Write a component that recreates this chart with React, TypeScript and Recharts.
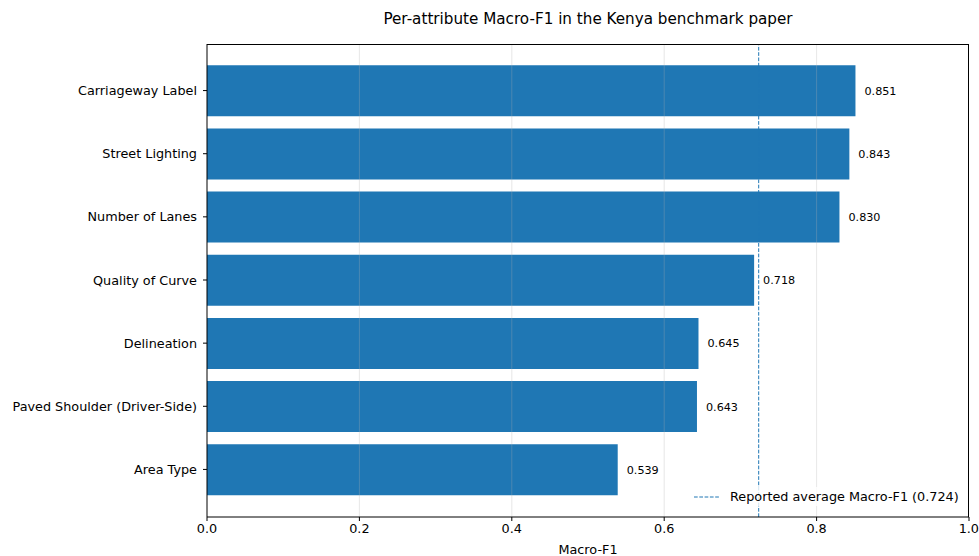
import { BarChart, Bar, XAxis, YAxis, ReferenceLine, LabelList, Label } from "recharts";

const attributes = [
  "Carriageway Label",
  "Street Lighting",
  "Number of Lanes",
  "Quality of Curve",
  "Delineation",
  "Paved Shoulder (Driver-Side)",
  "Area Type",
];
const macroF1 = [0.851, 0.843, 0.83, 0.718, 0.645, 0.643, 0.539];
const xTicks = [0, 0.2, 0.4, 0.6, 0.8, 1.0];
const gridTicks = [0.2, 0.4, 0.6, 0.8];
const reportedAverage = 0.724;

const data = attributes.map((name, i) => ({ name, value: macroF1[i] }));

const FONT = "'DejaVu Sans', sans-serif";
const BLUE = "#1f77b4";

export default function App() {
  return (
    <div style={{ position: "absolute", left: 0, top: 0, width: 979, height: 556, background: "#fff", fontFamily: FONT }}>
      {/* title */}
      <div
        style={{
          position: "absolute",
          top: 10,
          left: 207,
          width: 762,
          textAlign: "center",
          fontSize: 15.2,
          color: "#000",
        }}
      >
        Per-attribute Macro-F1 in the Kenya benchmark paper
      </div>
      <BarChart
        width={979}
        height={556}
        data={data}
        layout="vertical"
        margin={{ top: 44, right: 10, bottom: 0, left: 0 }}
        barCategoryGap="10%"
      >
        <XAxis
          type="number"
          domain={[0, 1]}
          ticks={xTicks}
          tickFormatter={(v: number) => v.toFixed(1)}
          height={39}
          tickSize={4}
          tickMargin={3}
          tick={{ fill: "#000", fontSize: 12.8, fontFamily: FONT }}
          stroke="#000"
        >
          <Label value="Macro-F1" position="insideBottom" offset={2} style={{ fill: "#000", fontSize: 12.8, fontFamily: FONT }} />
        </XAxis>
        <YAxis
          type="category"
          dataKey="name"
          width={207}
          tickSize={4}
          tickMargin={6}
          padding={{ top: 15, bottom: 16 }}
          tick={{ fill: "#000", fontSize: 12.8, fontFamily: FONT }}
          stroke="#000"
        />
        <Bar dataKey="value" fill={BLUE} isAnimationActive={false}>
          <LabelList
            dataKey="value"
            position="right"
            offset={9}
            formatter={(v: any) => Number(v).toFixed(3)}
            style={{ fill: "#000", fontSize: 11.2, fontFamily: FONT }}
          />
        </Bar>
        {gridTicks.map((t) => (
          <ReferenceLine key={t} x={t} stroke="#b0b0b0" strokeOpacity={0.3} strokeWidth={1} />
        ))}
        <ReferenceLine x={reportedAverage} stroke={BLUE} strokeDasharray="3.7 1.6" strokeWidth={1} />
      </BarChart>
      {/* legend */}
      <div
        style={{
          position: "absolute",
          left: 688,
          top: 487,
          display: "flex",
          alignItems: "center",
          whiteSpace: "nowrap",
          fontSize: 12.8,
          color: "#000",
          background: "rgba(255,255,255,0.8)",
          padding: "2px 6px",
        }}
      >
        <svg width={26} height={10} style={{ marginRight: 10 }}>
          <line x1={0} y1={5} x2={26} y2={5} stroke={BLUE} strokeDasharray="3.7 1.6" strokeWidth={1} />
        </svg>
        <span>Reported average Macro-F1 ({reportedAverage.toFixed(3)})</span>
      </div>
      {/* axes frame (top and right spines) */}
      <div
        style={{
          position: "absolute",
          left: 207,
          top: 44,
          width: 762,
          height: 473,
          boxSizing: "border-box",
          borderTop: "1px solid #000",
          borderRight: "1px solid #000",
          pointerEvents: "none",
        }}
      />
    </div>
  );
}
